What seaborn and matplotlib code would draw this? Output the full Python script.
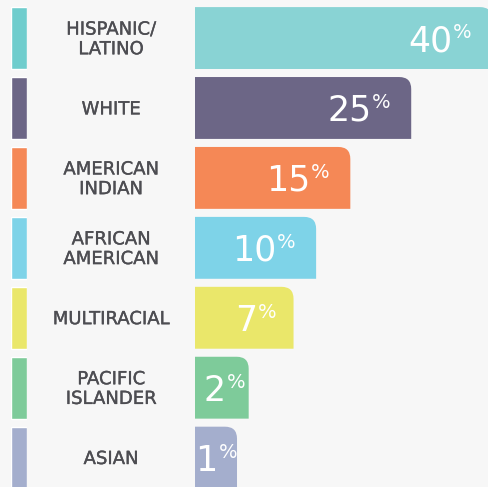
import numpy as np
import matplotlib
matplotlib.use("Agg")
import matplotlib.pyplot as plt
import matplotlib.transforms as mtrans
import matplotlib.patheffects as pe
from matplotlib.path import Path
from matplotlib.patches import PathPatch
import seaborn as sns

# Dados
grupos = ["HISPANIC/\nLATINO", "WHITE", "AMERICAN\nINDIAN", "AFRICAN\nAMERICAN",
          "MULTIRACIAL", "PACIFIC\nISLANDER", "ASIAN"]
valores = [40, 25, 15, 10, 7, 2, 1]

# Cores
cores_barra = ["#89d3d4", "#6c6686", "#f58856", "#7ed3e8", "#eae76a", "#7ecb9a", "#a4aecd"]
cores_faixa = ["#6fcdcd", "#6c6686", "#f58856", "#7ed3e8", "#eae76a", "#7ecb9a", "#a4aecd"]
fundo = "#f7f7f7"

sns.set_style("white")
plt.rcParams["font.family"] = ["DejaVu Sans"]

W, H = 489, 487
fig = plt.figure(figsize=(W / 100, H / 100), dpi=100)
fig.patch.set_facecolor(fundo)

# eixo das barras (escala de potencia para o comprimento)
ax = fig.add_axes([195 / W, 0, 1 - 195 / W, 1])
ax.set_facecolor("none")
sns.barplot(x=valores, y=grupos, hue=grupos, palette=cores_barra, orient="h",
            width=0.885, saturation=1, legend=False, ax=ax)
fwd = lambda x: np.sign(x) * np.abs(x) ** 0.75
inv = lambda y: np.sign(y) * np.abs(y) ** (4 / 3)
ax.set_xscale("function", functions=(fwd, inv))
ax.set_xlim(-1.649, 39.4)
ylim = (6.42, -0.544)
ax.set_ylim(*ylim)
ax.axis("off")

# faixas coloridas na esquerda
ax_s = fig.add_axes([11 / W, 0, 16 / W, 1])
sns.barplot(x=[1] * len(grupos), y=grupos, hue=grupos, palette=cores_faixa, orient="h",
            width=0.885, saturation=1, legend=False, ax=ax_s)
ax_s.set_xlim(0, 1)
ax_s.set_ylim(*ylim)
ax_s.axis("off")

fig.canvas.draw()

# troca as barras por barras com canto superior direito arredondado
bbox = ax.get_window_extent()
rx = 12 / bbox.width
ry = 12 / bbox.height
to_axes = ax.transData + ax.transAxes.inverted()
larguras = []
for p, v in zip(list(ax.patches), valores):
    y0 = p.get_y()
    h = p.get_height()
    (x1, ya), = to_axes.transform([(v, y0)])
    (_, yb), = to_axes.transform([(v, y0 + h)])
    top, bot = max(ya, yb), min(ya, yb)
    verts = [(0, bot), (x1, bot), (x1, top - ry), (x1, top), (x1 - rx, top),
             (0, top), (0, bot)]
    codes = [Path.MOVETO, Path.LINETO, Path.LINETO, Path.CURVE3, Path.CURVE3,
             Path.LINETO, Path.CLOSEPOLY]
    ax.add_patch(PathPatch(Path(verts, codes), facecolor=p.get_facecolor(),
                           edgecolor="none", transform=ax.transAxes, clip_on=False))
    p.set_visible(False)
    larguras.append(x1 * bbox.width)

# rotulos das categorias
trans = mtrans.blended_transform_factory(fig.transFigure, ax.transData)
for i, g in enumerate(grupos):
    ax.text(111 / W, i + 0.02, g, transform=trans, ha="center", va="center",
            fontsize=13, color="#4d4d52", linespacing=1.12,
            path_effects=[pe.withStroke(linewidth=0.25, foreground="#4d4d52")])

# valores
for i, (v, w) in enumerate(zip(valores, larguras)):
    pad = min(40, 7 + 0.3 * w)
    ax.annotate(str(v), xy=(v, i), xytext=(-pad, -13), textcoords="offset pixels",
                ha="right", va="baseline", fontsize=25, color="white",
                annotation_clip=False)
    ax.annotate("%", xy=(v, i), xytext=(-pad + 1, 0), textcoords="offset pixels",
                ha="left", va="baseline", fontsize=14, color="white",
                annotation_clip=False)

fig.savefig("out.png", dpi=100, facecolor=fundo)
